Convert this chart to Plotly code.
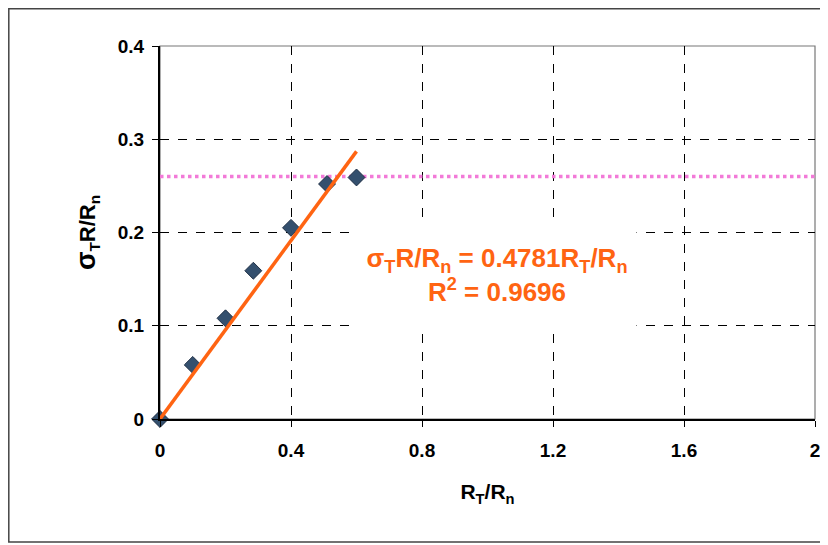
import plotly.graph_objects as go

# Data
rt_rn = [0.0, 0.1, 0.2, 0.285, 0.4, 0.51, 0.6]
sigma_r_rn = [0.0, 0.058, 0.108, 0.159, 0.205, 0.252, 0.259]
trend_x = [0.0, 0.6]
trend_y = [0.0, 0.287]
ref_x = [0.0, 2.0]
ref_y = [0.26, 0.26]
x_ticks = [0, 0.4, 0.8, 1.2, 1.6, 2]
x_tick_labels = ["0", "0.4", "0.8", "1.2", "1.6", "2"]
y_ticks = [0, 0.1, 0.2, 0.3, 0.4]
y_tick_labels = ["0", "0.1", "0.2", "0.3", "0.4"]
eq_text = "σ<sub>T</sub>R/R<sub>n</sub> = 0.4781R<sub>T</sub>/R<sub>n</sub><br>R<sup>2</sup> = 0.9696"

FONT = "Liberation Sans, Arial, sans-serif"
ORANGE = "#FF6412"

fig = go.Figure()
fig.add_trace(go.Scatter(
    x=ref_x, y=ref_y, mode="lines",
    line=dict(color="#F27AD8", width=3.5, dash="dot"),
    hoverinfo="skip", showlegend=False))
fig.add_trace(go.Scatter(
    x=rt_rn, y=sigma_r_rn, mode="markers",
    marker=dict(symbol="diamond", size=13, color="#34506E",
                line=dict(color="#1E2E44", width=1)),
    showlegend=False, cliponaxis=False))
fig.add_trace(go.Scatter(
    x=trend_x, y=trend_y, mode="lines",
    line=dict(color=ORANGE, width=3.5),
    showlegend=False, cliponaxis=False))

W, H = 828, 545
OFF = 8  # page body margin
PL, PR, PT, PB = 160, 815, 46, 419  # plot area in page pixels
L = PL - OFF
T = PT - OFF
R = W - (PR - OFF)
B = H - (PB - OFF)
pw, ph = PR - PL, PB - PT

def px(xp):
    return (xp - PL) / pw

def py(yp):
    return (PB - yp) / ph

shapes = [
    # outer scanned frame
    dict(type="rect", xref="paper", yref="paper",
         x0=px(OFF + 0.8), x1=px(900), y0=py(542), y1=py(OFF + 0.8),
         line=dict(color="#444444", width=1.5), fillcolor="rgba(0,0,0,0)", layer="below"),
    # plot-area border (top/right grey)
    dict(type="rect", xref="paper", yref="paper", x0=0, x1=1, y0=0, y1=1,
         line=dict(color="#777777", width=1.2), fillcolor="rgba(0,0,0,0)", layer="below"),
]

fig.update_layout(
    width=W, height=H,
    margin=dict(l=L, r=R, t=T, b=B),
    paper_bgcolor="white", plot_bgcolor="white",
    font=dict(family=FONT, color="black"),
    shapes=shapes,
    annotations=[dict(
        x=px(497), y=py(275), xref="paper", yref="paper",
        xanchor="center", yanchor="middle",
        text=eq_text, showarrow=False,
        width=278, height=104, borderpad=0, bgcolor="white",
        valign="middle",
        font=dict(family=FONT, size=26, color=ORANGE, weight="bold"),
        align="center")],
)
fig.update_xaxes(
    range=[0, 2], tickvals=x_ticks, ticktext=x_tick_labels,
    showgrid=True, gridcolor="black", gridwidth=1, griddash="dash",
    zeroline=False, showline=True, linecolor="black", linewidth=2,
    ticks="outside", ticklen=6, tickcolor="black", ticklabelstandoff=7,
    tickfont=dict(family=FONT, size=19, weight="bold"),
    title=dict(text="R<sub>T</sub>/R<sub>n</sub>", standoff=25,
               font=dict(family=FONT, size=21, weight="bold")),
)
fig.update_yaxes(
    range=[0, 0.4], tickvals=y_ticks, ticktext=y_tick_labels,
    showgrid=True, gridcolor="black", gridwidth=1, griddash="dash",
    zeroline=False, showline=True, linecolor="black", linewidth=2,
    ticks="outside", ticklen=6, tickcolor="black", ticklabelstandoff=4,
    tickfont=dict(family=FONT, size=19, weight="bold"),
    title=dict(text="<span style='font-size:27px'>σ</span><sub>T</sub>R/R<sub>n</sub>", standoff=16,
               font=dict(family=FONT, size=22, weight="bold")),
)

fig.write_html("out.html")
